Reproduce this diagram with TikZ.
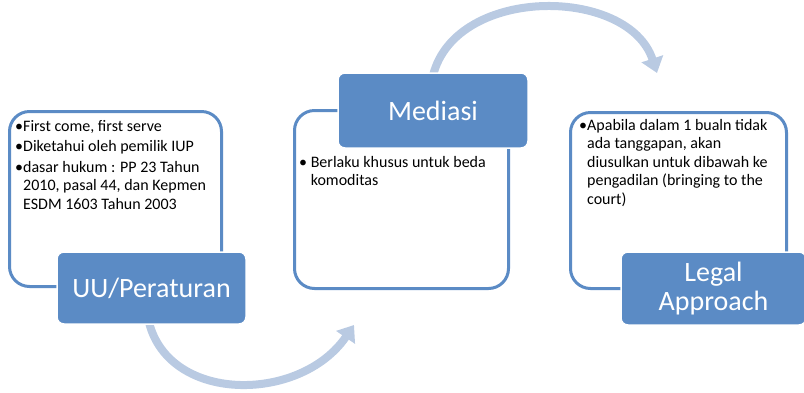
\documentclass[tikz,border=0pt]{standalone}
\usepackage{fontspec}
\setmainfont{Carlito}
\usetikzlibrary{arrows.meta}
\definecolor{lblue}{HTML}{5B8BC5}
\definecolor{arrowc}{HTML}{B9CAE2}
\begin{document}
\begin{tikzpicture}[x=1pt,y=-1pt,
 card/.style={draw=lblue, line width=3pt, rounded corners=20pt, fill=white, inner sep=0, outer sep=0},
 tag/.style={fill=lblue, draw=white, line width=1.5pt, rounded corners=7pt, text=white,
   font=\fontsize{28}{29}\selectfont, align=center, inner sep=0, outer sep=0},
 body/.style={font=\fontsize{16}{18.5}\selectfont, align=left, inner sep=0, anchor=north west},
 flow/.style={draw=arrowc, line width=8pt, -{Triangle[width=22pt,length=15pt]}}]
\useasboundingbox (0,0) rectangle (804,392);
% connectors (behind)
\coordinate (a1s) at (148,318);
\coordinate (a1e) at (354,325);
\coordinate (a2s) at (432,80);
\coordinate (a2e) at (657,73);
\draw[flow] (a1s) .. controls (165,404) and (300,404) .. (a1e);
\draw[flow] (a2s) .. controls (450,-15) and (628,-15) .. (a2e);
% cards
\node[card, minimum width=212pt, minimum height=175pt] (card1) at (115.5,199) {};
\node[card, minimum width=214pt, minimum height=178pt] (card2) at (401.5,199.5) {};
\node[card, minimum width=216pt, minimum height=176pt] (card3) at (678.5,200.5) {};
% texts
\node[body] (t1) at (15,120) {\textbullet First come, first serve\\[2pt]
\textbullet Diketahui oleh pemilik IUP\\[2pt]
\textbullet dasar hukum : PP 23 Tahun\\
\hphantom{\textbullet}2010, pasal 44, dan Kepmen\\
\hphantom{\textbullet}ESDM 1603 Tahun 2003};
\node[body] (t2) at (299,156) {\textbullet\ Berlaku khusus untuk beda\\
\hphantom{\textbullet\ }komoditas};
\node[body] (t3) at (579,119) {\textbullet Apabila dalam 1 bualn tidak\\
\hphantom{\textbullet}ada tanggapan, akan\\
\hphantom{\textbullet}diusulkan untuk dibawah ke\\
\hphantom{\textbullet}pengadilan (bringing to the\\
\hphantom{\textbullet}court)};
% tags
\node[tag, minimum width=189pt, minimum height=72pt] (tag1) at (151.5,288) {UU/Peraturan};
\node[tag, minimum width=190pt, minimum height=75pt] (tag2) at (433,110.5) {Mediasi};
\node[tag, minimum width=185pt, minimum height=73pt] (tag3) at (713.5,288.5) {Legal\\Approach};
\end{tikzpicture}
\end{document}
